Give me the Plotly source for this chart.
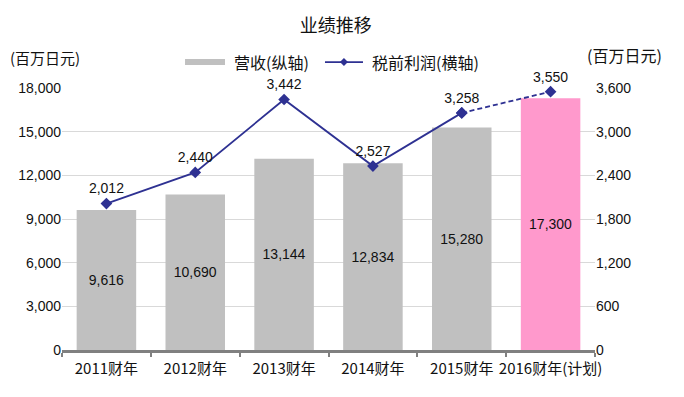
import plotly.graph_objects as go

categories = ["2011财年", "2012财年", "2013财年", "2014财年", "2015财年", "2016财年(计划)"]
revenue = [9616, 10690, 13144, 12834, 15280, 17300]
profit = [2012, 2440, 3442, 2527, 3258, 3550]
left_ticks = [0, 3000, 6000, 9000, 12000, 15000, 18000]
right_ticks = [0, 600, 1200, 1800, 2400, 3000, 3600]

FONT = "Liberation Sans, Arial, Noto Sans CJK SC, sans-serif"
CJK = "Noto Sans CJK SC, sans-serif"
gray = "#C0C0C0"
pink = "#FF99CC"
bar_colors = [gray] * 5 + [pink]
navy = "#2E3192"

fig = go.Figure()
fig.add_trace(go.Bar(
    x=categories, y=revenue, name="营收(纵轴)",
    marker=dict(color=bar_colors, line=dict(width=0)),
    width=0.67,
    text=[f"{v:,}" for v in revenue], textposition="inside",
    insidetextanchor="middle", textangle=0,
    textfont=dict(family=FONT, size=14, color="#111111"),
    yaxis="y",
))
fig.add_trace(go.Scatter(
    x=categories[:5], y=profit[:5], name="税前利润(横轴)",
    mode="lines+markers+text",
    line=dict(color=navy, width=1.8),
    marker=dict(symbol="diamond", size=9, color=navy),
    text=[f"{v:,}" for v in profit[:5]], textposition="top center",
    textfont=dict(family=FONT, size=14, color="#111111"),
    yaxis="y2", cliponaxis=False,
))
fig.add_trace(go.Scatter(
    x=categories[4:], y=profit[4:], showlegend=False,
    mode="lines+markers+text",
    line=dict(color=navy, width=1.8, dash="5px,3px"),
    marker=dict(symbol="diamond", size=9, color=navy),
    text=["", f"{profit[5]:,}"], textposition="top center",
    textfont=dict(family=FONT, size=14, color="#111111"),
    yaxis="y2", cliponaxis=False,
))

# custom legend keys (paper coordinates)
legend_y = 1.099
shapes = [
    dict(type="rect", xref="paper", yref="paper", x0=0.2308, x1=0.3058,
         y0=1.0878, y1=1.1107, fillcolor=gray, line=dict(width=0)),
    dict(type="line", xref="paper", yref="paper", x0=0.4934, x1=0.5647,
         y0=legend_y, y1=legend_y, line=dict(color=navy, width=1.8)),
    dict(type="path", xref="paper", yref="paper", xsizemode="pixel", ysizemode="pixel",
         xanchor=0.529, yanchor=legend_y, path="M-4,0 L0,4 L4,0 L0,-4 Z",
         fillcolor=navy, line=dict(width=0)),
]

fig.update_layout(
    width=676, height=389,
    margin=dict(l=54, r=89, t=80, b=47, autoexpand=False),
    paper_bgcolor="white", plot_bgcolor="white",
    font=dict(family=FONT, size=13, color="#111111"),
    uniformtext=dict(minsize=13, mode="show"),
    title=dict(text="业绩推移", x=0.485, xanchor="center", y=0.955, yanchor="middle",
               font=dict(family=CJK, size=18, color="#111111")),
    showlegend=False,
    bargap=0.33,
    shapes=shapes,
    xaxis=dict(showgrid=False, showline=True, linecolor="#808080", linewidth=3,
               ticks="outside", tickcolor="#808080", ticklen=4, tickwidth=2,
               tickson="boundaries", tickangle=0, automargin=False,
               ticklabelstandoff=3,
               tickfont=dict(family=CJK, size=15, color="#111111"),
               fixedrange=True),
    yaxis=dict(range=[0, 18000], tickvals=left_ticks, tickformat=",",
               showgrid=True, gridcolor="#D9D9D9", gridwidth=1, automargin=False,
               zeroline=False, showline=False, ticks="",
               tickfont=dict(family=FONT, size=14, color="#111111")),
    yaxis2=dict(range=[0, 3600], tickvals=right_ticks, tickformat=",",
                overlaying="y", side="right", showgrid=False, automargin=False,
                zeroline=False, showline=False, ticks="",
                tickfont=dict(family=FONT, size=14, color="#111111")),
    annotations=[
        dict(text="营收(纵轴)", xref="paper", yref="paper", x=0.319, y=legend_y,
             xanchor="left", yanchor="middle", showarrow=False,
             font=dict(family=CJK, size=16, color="#111111")),
        dict(text="税前利润(横轴)", xref="paper", yref="paper", x=0.5779, y=legend_y,
             xanchor="left", yanchor="middle", showarrow=False,
             font=dict(family=CJK, size=16, color="#111111")),
        dict(text="(百万日元)", xref="paper", yref="paper", x=-0.1013, y=1.115,
             xanchor="left", yanchor="middle", showarrow=False,
             font=dict(family=CJK, size=15, color="#111111")),
        dict(text="(百万日元)", xref="paper", yref="paper", x=0.981, y=1.126,
             xanchor="left", yanchor="middle", showarrow=False,
             font=dict(family=CJK, size=16, color="#111111")),
    ],
)

fig.write_html("out.html")
